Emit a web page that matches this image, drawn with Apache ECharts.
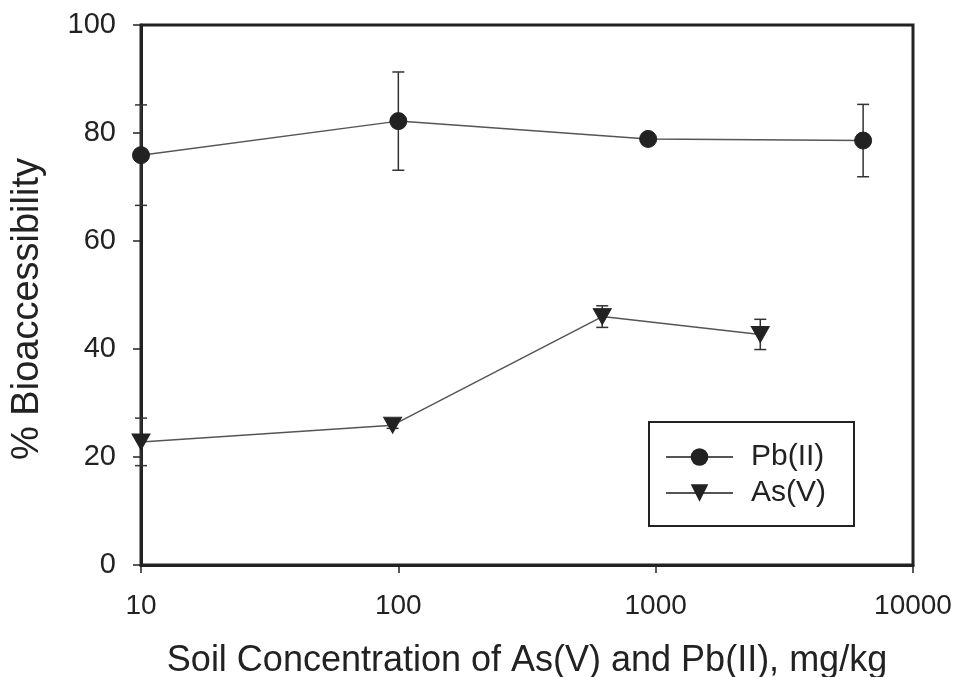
<!DOCTYPE html>
<html>
<head>
<meta charset="utf-8">
<script src="https://cdn.jsdelivr.net/npm/echarts@6/dist/echarts.min.js"></script>
<style>html,body{margin:0;padding:0;background:#fff;}#c{width:960px;height:677px;}</style>
</head>
<body>
<div id="c"></div>
<script>
// Data
const pbX = [10, 100, 935, 6400];
const pbY = [75.9, 82.2, 78.9, 78.6];
const pbErr = [9.3, 9.1, 0.6, 6.7];
const asX = [10, 95, 620, 2550];
const asY = [22.8, 25.9, 46.0, 42.7];
const asErr = [4.4, 0.6, 2.0, 2.8];
const yTicks = [0, 20, 40, 60, 80, 100];
const xTicks = [10, 100, 1000, 10000];
const seriesNames = ['Pb(II)', 'As(V)'];

const ink = '#222';
const lineCol = '#555';
const font = 'Liberation Sans, Arial, sans-serif';

function errData(xs, ys, es) {
  return xs.map((x, i) => [x, ys[i] - es[i], ys[i] + es[i]]);
}
function errRender(params, api) {
  const top = api.coord([api.value(0), api.value(2)]);
  const bot = api.coord([api.value(0), api.value(1)]);
  const cap = 6;
  const st = { stroke: '#333', lineWidth: 1.5 };
  return {
    type: 'group',
    children: [
      { type: 'line', shape: { x1: top[0], y1: top[1], x2: bot[0], y2: bot[1] }, style: st },
      { type: 'line', shape: { x1: top[0] - cap, y1: top[1], x2: top[0] + cap, y2: top[1] }, style: st },
      { type: 'line', shape: { x1: bot[0] - cap, y1: bot[1], x2: bot[0] + cap, y2: bot[1] }, style: st }
    ]
  };
}

const chart = echarts.init(document.getElementById('c'), null, { renderer: 'canvas' });
chart.setOption({
  animation: false,
  backgroundColor: '#fff',
  grid: { left: 141, top: 25, right: 47, bottom: 112, containLabel: false, outerBoundsMode: 'none', show: true, borderColor: ink, borderWidth: 3, backgroundColor: 'transparent' },
  xAxis: {
    type: 'log', logBase: 10, min: xTicks[0], max: xTicks[xTicks.length - 1],
    name: 'Soil Concentration of As(V) and Pb(II), mg/kg',
    nameLocation: 'middle', nameGap: 78,
    nameTextStyle: { fontFamily: font, fontSize: 36, color: ink },
    axisLine: { show: true, lineStyle: { color: ink, width: 3 } },
    axisTick: { show: true, inside: false, length: 8, lineStyle: { color: ink, width: 1.5 } },
    axisLabel: { fontFamily: font, fontSize: 28, color: ink, margin: 27, formatter: v => String(v) },
    splitLine: { show: false },
    minorTick: { show: false }
  },
  yAxis: {
    type: 'value', min: yTicks[0], max: yTicks[yTicks.length - 1], interval: 20,
    name: '% Bioaccessibility',
    nameLocation: 'middle', nameGap: 94, nameRotate: 90,
    nameTextStyle: { fontFamily: font, fontSize: 38, color: ink, padding: [0, 28, 0, 0] },
    axisLine: { show: true, lineStyle: { color: ink, width: 3 } },
    axisTick: { show: true, inside: false, length: 8, lineStyle: { color: ink, width: 1.5 } },
    axisLabel: { fontFamily: font, fontSize: 29, color: ink, margin: 25 },
    splitLine: { show: false }
  },
  legend: {
    orient: 'vertical', left: 649, top: 422,
    padding: [20, 28, 18, 16],
    borderColor: ink, borderWidth: 2, backgroundColor: '#fff',
    itemWidth: 67, itemHeight: 22, itemGap: 6,
    textStyle: { fontFamily: font, fontSize: 30, color: ink, padding: [0, 0, 0, 13] },
    data: seriesNames
  },
  series: [
    {
      name: seriesNames[0], type: 'line',
      data: pbX.map((x, i) => [x, pbY[i]]),
      symbol: 'circle', symbolSize: 17,
      lineStyle: { color: lineCol, width: 1.5 },
      itemStyle: { color: ink, borderColor: ink },
      z: 5
    },
    {
      name: seriesNames[1], type: 'line',
      data: asX.map((x, i) => [x, asY[i]]),
      symbol: 'triangle', symbolRotate: 180, symbolSize: [18, 16],
      lineStyle: { color: lineCol, width: 1.5 },
      itemStyle: { color: ink, borderColor: ink },
      z: 5
    },
    {
      type: 'custom', name: 'pbErr', renderItem: errRender, clip: false,
      data: errData(pbX, pbY, pbErr), encode: { x: 0, y: [1, 2] }, z: 3, silent: true
    },
    {
      type: 'custom', name: 'asErr', renderItem: errRender, clip: false,
      data: errData(asX, asY, asErr), encode: { x: 0, y: [1, 2] }, z: 3, silent: true
    }
  ]
});
</script>
</body>
</html>
